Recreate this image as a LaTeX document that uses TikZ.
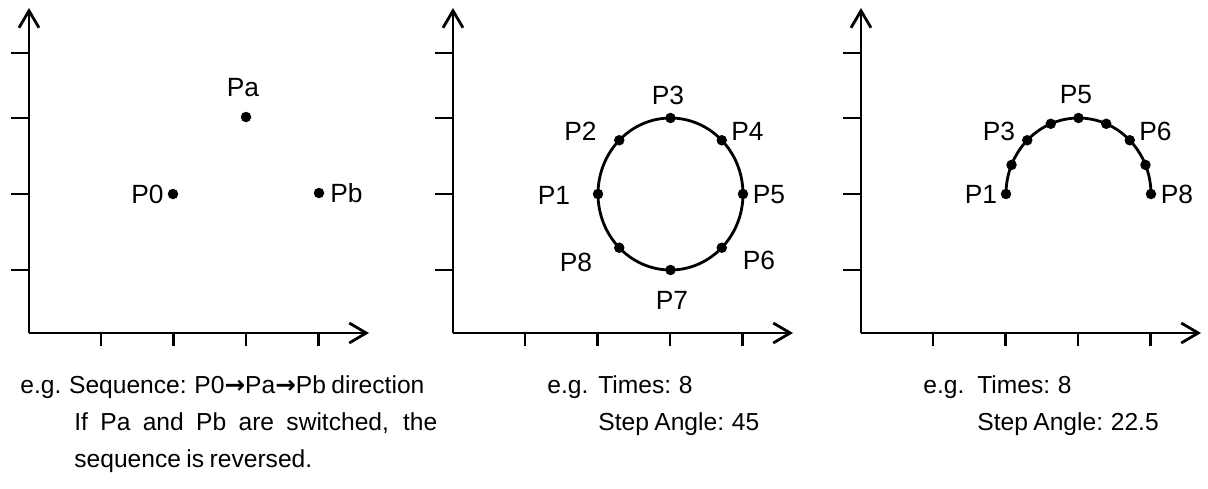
\documentclass[tikz,border=0pt]{standalone}
\usepackage{fontspec}
\setmainfont{Liberation Sans}[WordSpace=0.8]
\newfontfamily\arrowfont{DejaVu Sans}
\usetikzlibrary{arrows.meta}
\tikzset{
    axisline/.style={line width=1.6pt,-{Straight Barb[length=3.4mm,width=4mm]}},
    tickmark/.style={line width=1.6pt},
    curve/.style={line width=1.6pt},
    dotpt/.style={circle,fill,inner sep=0pt,minimum size=2.1mm},
    ptlabel/.style={inner sep=0pt,font=\fontsize{15}{18}\selectfont},
    note/.style={anchor=base west,inner sep=0pt,font=\fontsize{14}{17}\selectfont}
}
\begin{document}
\begin{tikzpicture}[x=0.02cm,y=0.02cm]
    \useasboundingbox (0,0) rectangle (1208,488);
    \foreach \ox in {0,424,832}{
        \coordinate (o\ox) at (\ox+29,155);
        \draw[axisline] (o\ox) -- ++(0,325);
        \draw[axisline] (o\ox) -- ++(340,0);
        \foreach \ty in {218,294,370,435}
            \draw[tickmark] (\ox+11,\ty) -- (\ox+29,\ty);
        \foreach \tx in {101,173.5,246,318.5}
            \draw[tickmark] (\ox+\tx,155) -- (\ox+\tx,142);
    }
    % sequence
    \node[dotpt] (p0) at (173,294) {};
    \node[dotpt] (pa) at (246,371) {};
    \node[dotpt] (pb) at (319,295) {};
    \node[ptlabel,anchor=east] (p0l) at (164,294) {P0};
    \node[ptlabel] (pal) at (243,400) {Pa};
    \node[ptlabel,anchor=west] (pbl) at (330,295) {Pb};
    % full circle
    \draw[curve] (670.5,294) ellipse [x radius=1.45cm,y radius=1.52cm];
    \foreach \a [count=\i] in {180,135,...,-135}
        \node[dotpt] (c\i) at ({670.5+72.5*cos(\a)},{294+76*sin(\a)}) {};
    \foreach \lx/\ly/\t in {554/293/1,580.5/357/2,668/393/3,747.5/357/4,
                            769/293/5,759/228/6,672/188/7,576/226/8}
        \node[ptlabel] (cl\t) at (\lx,\ly) {P\t};
    % half circle
    \draw[curve] (1006,294) arc[start angle=180,end angle=0,x radius=1.45cm,y radius=1.52cm];
    \foreach \i in {0,...,8}
        \node[dotpt] (s\i) at ({1078.5+72.5*cos(180-22.5*\i)},{294+76*sin(180-22.5*\i)}) {};
    \foreach \lx/\ly/\t in {981/294/1,999/357/3,1076/393/5,1155.5/357/6,1177/294/8}
        \node[ptlabel] (sl\t) at (\lx,\ly) {P\t};
    % notes
    \node[note] (seq) at (20,95) {e.g. Sequence: P0{\arrowfont\bfseries →}Pa{\arrowfont\bfseries →}Pb direction};
    \node[note] (swap) at (74,58) {\makebox[7.26cm][s]{If Pa and Pb are switched, the}};
    \node[note] (rev) at (74,21) {sequence is reversed.};
    \node[note] (eg2) at (547,95) {e.g.};
    \node[note] (times2) at (598,95) {Times: 8};
    \node[note] (angle2) at (598,58) {Step Angle: 45};
    \node[note] (eg3) at (923,95) {e.g.};
    \node[note] (times3) at (977,95) {Times: 8};
    \node[note] (angle3) at (977,58) {Step Angle: 22.5};
\end{tikzpicture}
\end{document}
